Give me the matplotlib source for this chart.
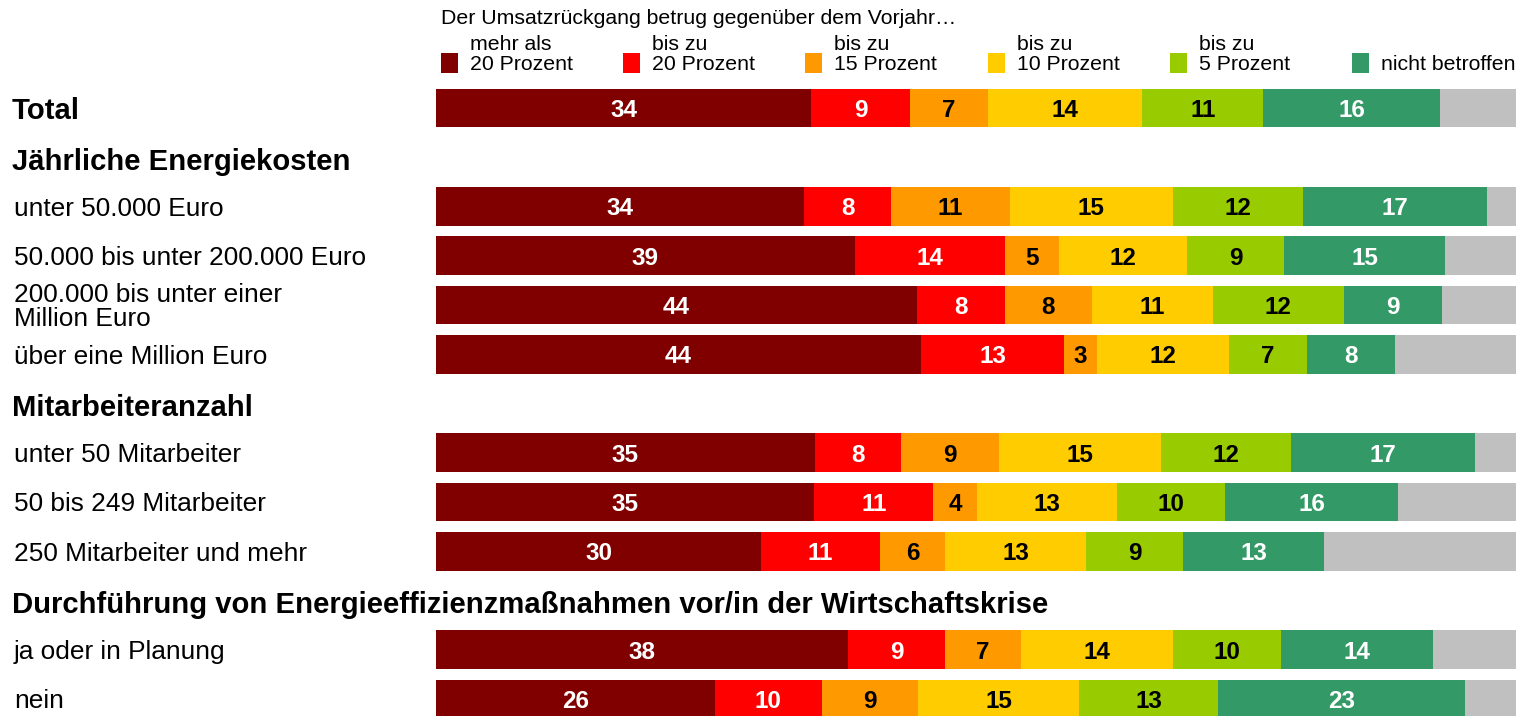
import matplotlib
matplotlib.use("Agg")
import matplotlib.pyplot as plt
import numpy as np
from matplotlib.patches import Rectangle
from matplotlib.transforms import blended_transform_factory

plt.rcParams['font.family'] = ['Liberation Sans', 'DejaVu Sans']

# ---------------- data ----------------
row_labels = ["Total",
              "unter 50.000 Euro",
              "50.000 bis unter 200.000 Euro",
              "200.000 bis unter einer\nMillion Euro",
              "über eine Million Euro",
              "unter 50 Mitarbeiter",
              "50 bis 249 Mitarbeiter",
              "250 Mitarbeiter und mehr",
              "ja oder in Planung",
              "nein"]
headings = ["Jährliche Energiekosten",
            "Mitarbeiteranzahl",
            "Durchführung von Energieeffizienzmaßnahmen vor/in der Wirtschaftskrise"]

series_names = ["mehr als\n20 Prozent", "bis zu\n20 Prozent", "bis zu\n15 Prozent",
                "bis zu\n10 Prozent", "bis zu\n5 Prozent", "nicht betroffen"]
mehr_als_20 = [34, 34, 39, 44, 44, 35, 35, 30, 38, 26]
bis_20      = [9, 8, 14, 8, 13, 8, 11, 11, 9, 10]
bis_15      = [7, 11, 5, 8, 3, 9, 4, 6, 7, 9]
bis_10      = [14, 15, 12, 11, 12, 15, 13, 13, 14, 15]
bis_5       = [11, 12, 9, 12, 7, 12, 10, 9, 10, 13]
nicht_betr  = [16, 17, 15, 9, 8, 17, 16, 13, 14, 23]
keine_angabe = [6.9, 2.7, 6.6, 6.75, 11.0, 3.8, 10.9, 17.7, 7.7, 4.8]

legend_title = "Der Umsatzrückgang betrug gegenüber dem Vorjahr…"

# ---------------- style ----------------
colors = ["#800000", "#FF0000", "#FF9900", "#FFCC00", "#99CC00", "#339966"]
grey = "#C0C0C0"
text_colors = ["white", "white", "black", "black", "black", "white"]

W, H = 1518, 716
fig = plt.figure(figsize=(W / 100, H / 100), dpi=100)

# layout: slots (rows + headings)
row_slots = [0, 2, 3, 4, 5, 7, 8, 9, 11, 12]
heading_slots = [1, 6, 10]
slot_px = 49.25
top_px = 108 - slot_px * 0.5
ybottom = 12 + (H - 699) / slot_px
ax_left, ax_right = 436, 1516
ax = fig.add_axes([ax_left / W, 0, (ax_right - ax_left) / W, (H - top_px) / H])
ax.set_xlim(0, 100)
ax.set_ylim(ybottom, -0.5)
ax.axis('off')

series = [mehr_als_20, bis_20, bis_15, bis_10, bis_5, nicht_betr]
vals = np.array(series + [keine_angabe], dtype=float)
totals = vals.sum(axis=0)
shares = vals / totals * 100

y = np.array(row_slots, dtype=float)
left = np.zeros(len(row_labels))
bar_h = 0.79
for i in range(len(series)):
    ax.barh(y, shares[i], left=left, height=bar_h, color=colors[i], linewidth=0)
    centers = left + shares[i] / 2
    for cx, cy, v in zip(centers, y, series[i]):
        ax.text(cx, cy + 0.05, str(v), ha='center', va='center',
                color=text_colors[i], fontsize=17.5, fontweight='bold')
    left += shares[i]
ax.barh(y, shares[-1], left=left, height=bar_h, color=grey, linewidth=0)

# left labels
tr = blended_transform_factory(fig.transFigure, ax.transData)
for lab, s in zip(row_labels, row_slots):
    if lab == "Total":
        ax.text(12 / W, s + 0.06, lab, transform=tr, ha='left', va='center',
                fontsize=21.1, fontweight='bold')
    else:
        ax.text(14 / W, s + 0.05, lab, transform=tr, ha='left', va='center',
                fontsize=18.9, linespacing=1.0)
for lab, s in zip(headings, heading_slots):
    ax.text(12 / W, s + 0.1, lab, transform=tr, ha='left', va='center',
            fontsize=21.1, fontweight='bold')

# legend (manual)
fig.text(441 / W, 1 - 18 / H, legend_title, ha='left', va='center', fontsize=15.3)
for i, (name, c) in enumerate(zip(series_names, colors)):
    x0 = 441 + i * 182.2
    fig.patches.append(Rectangle((x0 / W, 1 - 73 / H), 17 / W, 20 / H,
                                 transform=fig.transFigure, color=c, linewidth=0))
    lines = name.split("\n")
    if len(lines) == 2:
        fig.text((x0 + 29) / W, 1 - 45 / H, lines[0], ha='left', va='center', fontsize=15.3)
    fig.text((x0 + 29) / W, 1 - 64 / H, lines[-1], ha='left', va='center', fontsize=15.3)

fig.savefig("out.png", dpi=100)
